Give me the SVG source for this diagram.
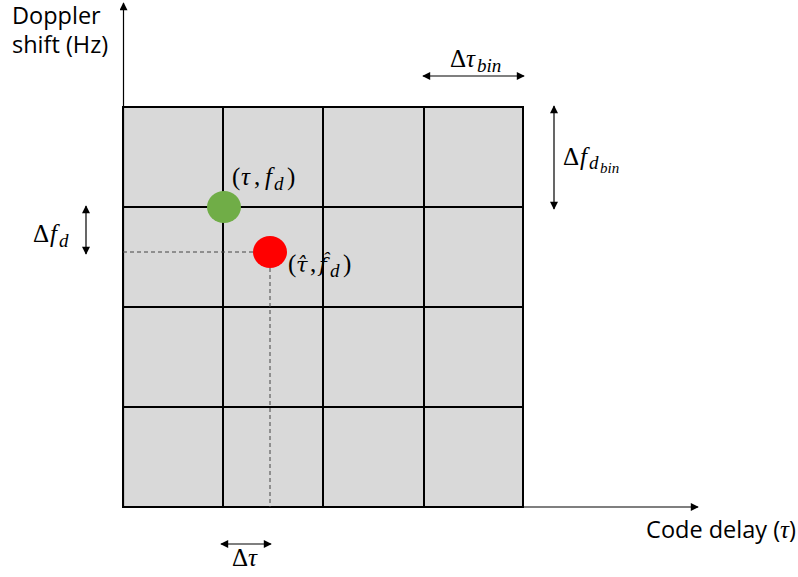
<svg xmlns="http://www.w3.org/2000/svg" width="798" height="577" viewBox="0 0 798 577">
<style>
.lbl{font-family:"Open Sans","Liberation Sans",sans-serif;font-size:23.5px;fill:#000}
.m{font-family:"Liberation Serif","DejaVu Serif",serif;font-size:25px;fill:#000}
.dv{font-family:"DejaVu Serif",serif;font-size:21px}
.it{font-style:italic}
.sub{font-size:19px}
.grid{stroke:#000;stroke-width:2;fill:none}
.ax{stroke:#000;stroke-width:1.2;fill:none}
.dash{stroke:#444;stroke-width:1;stroke-dasharray:4,3;fill:none}
</style>
<defs>
<marker id="ah" viewBox="0 0 10 10" refX="9" refY="5" markerWidth="9" markerHeight="8" markerUnits="userSpaceOnUse" orient="auto-start-reverse">
<path d="M0,0 L10,5 L0,10 z" fill="#000"/>
</marker>
</defs>
<g id="grid">
<rect x="123" y="107" width="400" height="400" fill="#d9d9d9"/>
<path class="grid" d="M123,107H523V507H123Z M223,107V507 M323,107V507 M424,107V507 M123,207H523 M123,307H523 M123,407H523"/>
</g>
<g id="connectors">
<line class="ax" x1="123.5" y1="507" x2="123.5" y2="3" marker-end="url(#ah)"/>
<line class="ax" x1="123" y1="507" x2="698" y2="507" marker-end="url(#ah)"/>
<line class="dash" x1="123" y1="252" x2="254" y2="252"/>
<line class="dash" x1="270" y1="268" x2="270" y2="507"/>
<line class="ax" x1="86" y1="206" x2="86" y2="254" marker-start="url(#ah)" marker-end="url(#ah)"/>
<line class="ax" x1="423" y1="76" x2="524" y2="76" marker-start="url(#ah)" marker-end="url(#ah)"/>
<line class="ax" x1="554" y1="106" x2="554" y2="209" marker-start="url(#ah)" marker-end="url(#ah)"/>
<line class="ax" x1="221" y1="544" x2="271" y2="544" marker-start="url(#ah)" marker-end="url(#ah)"/>
</g>
<g id="true-point">
<ellipse cx="224" cy="207" rx="17" ry="16" fill="#70ad47"/>
<text class="m" y="185"><tspan x="232">(</tspan><tspan class="it" x="241">τ</tspan><tspan x="254">,</tspan><tspan class="it" x="265">f</tspan><tspan class="it sub" x="274" dy="5">d</tspan><tspan x="287" dy="-5">)</tspan></text>
</g>
<g id="est-point">
<ellipse cx="270" cy="252" rx="17" ry="16" fill="#ff0000"/>
<text class="m"><tspan x="288" y="272">(</tspan><tspan class="it dv" x="296" y="272">τ̂</tspan><tspan x="310" y="272">,</tspan><tspan class="it dv" x="319" y="272">f̂</tspan><tspan class="it sub" x="330" y="277">d</tspan><tspan x="343" y="272">)</tspan></text>
</g>
<g id="labels">
<text class="lbl" x="12" y="24">Doppler</text>
<text class="lbl" x="12" y="53">shift (Hz)</text>
<text class="lbl" x="796" y="538" text-anchor="end">Code delay (<tspan class="m it">τ</tspan>)</text>
<text class="m" y="242"><tspan x="33">Δ</tspan><tspan class="it" x="50">f</tspan><tspan class="it sub" x="59" dy="5">d</tspan></text>
<text class="m" y="67"><tspan x="450">Δ</tspan><tspan class="it" x="466">τ</tspan><tspan class="it sub" x="477" dy="5">bin</tspan></text>
<text class="m" y="165"><tspan x="563">Δ</tspan><tspan class="it" x="580">f</tspan><tspan class="it sub" x="589" dy="4">d</tspan><tspan class="it" font-size="15" x="600" dy="4">bin</tspan></text>
<text class="m" y="566"><tspan x="232">Δ</tspan><tspan class="it" x="248">τ</tspan></text>
</g>
</svg>
